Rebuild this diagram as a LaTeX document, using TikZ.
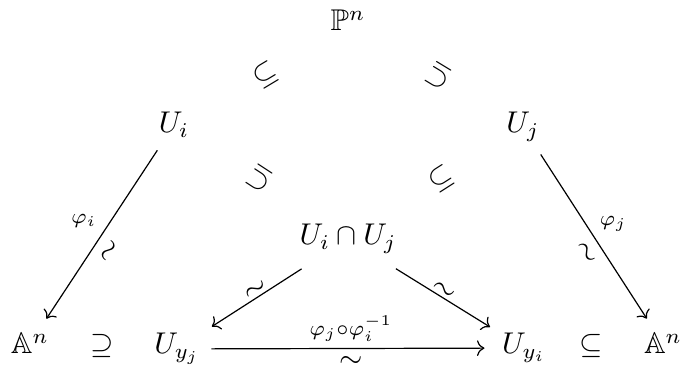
\documentclass[tikz,border=0pt]{standalone}
\usepackage{amssymb}
\usetikzlibrary{arrows.meta}
\begin{document}
\begin{tikzpicture}[x=0.3333pt,y=-0.3333pt,
  obj/.style={anchor=base, inner sep=3pt},
  arr/.style={-{Computer Modern Rightarrow}, line width=0.4pt},
  lab/.style={inner sep=0.5pt},
  tl/.style={sloped, inner sep=0pt},
  incl/.style={sloped, allow upside down, inner sep=0pt}]
\useasboundingbox (0,0) rectangle (681,367);
\node[obj] (Pn)  at (348,31)  {$\mathbb{P}^n$};
\node[obj] (Ui)  at (174,133) {$U_i$};
\node[obj] (Uj)  at (523,133) {$U_j$};
\node[obj] (Uij) at (348,245) {$U_i\cap U_j$};
\node[obj] (AL)  at (30,354)  {$\mathbb{A}^n$};
\node[obj] (sup) at (102,354) {$\supseteq$};
\node[obj] (Uyj) at (177,354) {$U_{y_j}$};
\node[obj] (Uyi) at (524,354) {$U_{y_i}$};
\node[obj] (sub) at (591,354) {$\subseteq$};
\node[obj] (AR)  at (663,354) {$\mathbb{A}^n$};
\path (Ui) -- node[incl, xshift=1.3pt, yshift=-1.3pt]{$\subseteq$} (Pn);
\path (Uj) -- node[incl, xshift=-1.2pt]{$\subseteq$} (Pn);
\path (Uij) -- node[incl, xshift=-1.4pt, yshift=-0.9pt]{$\subseteq$} (Ui);
\path (Uij) -- node[incl]{$\subseteq$} (Uj);
\draw[arr, shorten <=1.3pt, shorten >=2pt] (Ui) -- node[lab, pos=.42, left=4pt]{$\scriptstyle\varphi_i$} node[tl, pos=.54, below=3.3pt]{$\sim$} (AL);
\draw[arr, shorten <=1.3pt, shorten >=2pt] (Uj) -- node[lab, pos=.42, right=4pt]{$\scriptstyle\varphi_j$} node[tl, pos=.54, below=3.3pt]{$\sim$} (AR);
\draw[arr, shorten <=3.5pt, shorten >=1pt] (Uij) -- node[tl, above]{$\sim$} (Uyj);
\draw[arr, shorten <=3.5pt, shorten >=1pt] (Uij) -- node[tl, above]{$\sim$} (Uyi);
\draw[arr, shorten <=0.7pt, shorten >=2.7pt] (Uyj) -- node[lab, above, inner sep=2pt]{$\scriptstyle\varphi_j\circ\varphi_i^{-1}$} node[below, inner sep=2.5pt]{$\sim$} (Uyi);
\end{tikzpicture}
\end{document}
